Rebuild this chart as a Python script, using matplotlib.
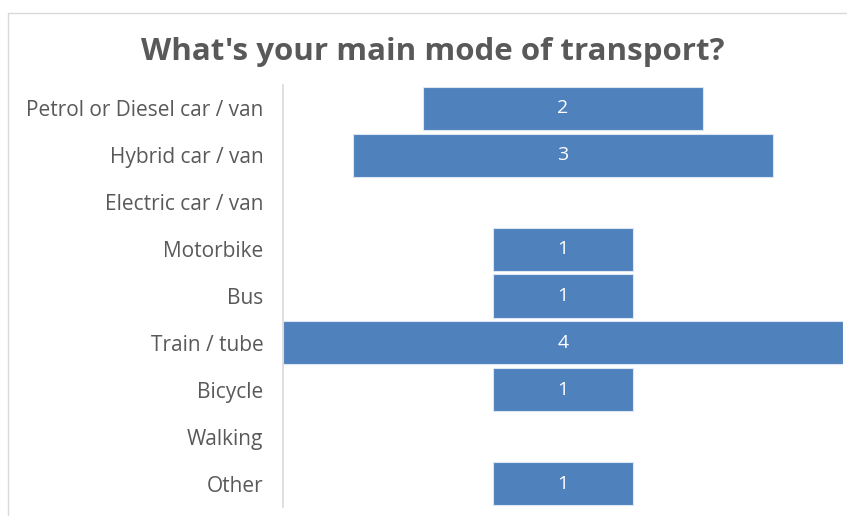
import numpy as np
import matplotlib.pyplot as plt
from matplotlib.patches import Rectangle

categories = ["Petrol or Diesel car / van", "Hybrid car / van", "Electric car / van",
              "Motorbike", "Bus", "Train / tube", "Bicycle", "Walking", "Other"]
counts = [2, 3, 0, 1, 1, 4, 1, 0, 1]

plt.rcParams["font.family"] = ["Open Sans", "DejaVu Sans"]

fig = plt.figure(figsize=(8.47, 5.16), dpi=100)
ax = fig.add_axes([283 / 847, 1 - 507 / 516, 560 / 847, 422 / 516])

# light frame around the chart area
fig.patches.append(Rectangle((8 / 847, -0.1), 1.2, 1 - 13 / 516 + 0.1,
                             transform=fig.transFigure, fill=False,
                             edgecolor="#d9d9d9", linewidth=1))

y = np.arange(len(categories))
vals = np.array(counts, dtype=float)
edges = ["#dce6f2" if v > 0 else "none" for v in counts]
ax.barh(y, vals, left=-vals / 2, height=0.92, color="#4f81bd",
        edgecolor=edges, linewidth=0.8)

for yi, v in zip(y, counts):
    if v > 0:
        ax.text(0, yi, str(v), ha="center", va="center", color="white", fontsize=14)

ax.set_xlim(-2, 2)
ax.set_ylim(len(categories) - 0.5, -0.5)
ax.set_yticks(y)
ax.set_yticklabels(categories, fontsize=15, color="#595959")
ax.tick_params(axis="y", length=0, pad=14)
ax.set_xticks([])
for s in ["top", "right", "bottom"]:
    ax.spines[s].set_visible(False)
ax.spines["left"].set_color("#d9d9d9")
ax.spines["left"].set_linewidth(1.2)

fig.text(433 / 847, 1 - 52 / 516, "What's your main mode of transport?",
         ha="center", va="center", fontsize=22.5, fontweight="bold", color="#595959")

fig.savefig("out.png", dpi=100)
